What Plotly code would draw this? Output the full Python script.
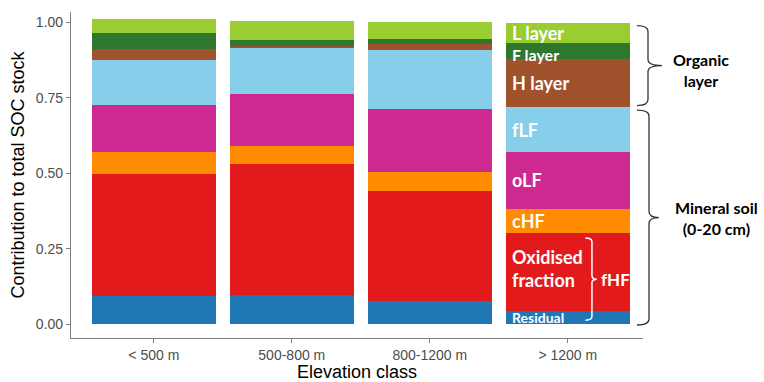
import plotly.graph_objects as go

# Elevation classes on the x axis
elevation_classes = ["< 500 m", "500-800 m", "800-1200 m", "> 1200 m"]

# Fraction names, stacked from bottom to top
fractions = ["Residual", "Oxidised fraction", "cHF", "oLF", "fLF", "H layer", "F layer", "L layer"]

# Contribution of each fraction to total SOC stock, per elevation class
residual = [0.094, 0.097, 0.076, 0.043]
oxidised = [0.402, 0.433, 0.364, 0.260]
chf = [0.073, 0.060, 0.065, 0.080]
olf = [0.157, 0.172, 0.208, 0.186]
flf = [0.149, 0.152, 0.196, 0.151]
h_layer = [0.036, 0.007, 0.019, 0.157]
f_layer = [0.052, 0.020, 0.017, 0.055]
l_layer = [0.047, 0.064, 0.055, 0.065]

series = [residual, oxidised, chf, olf, flf, h_layer, f_layer, l_layer]
colors = ["#1F78B4", "#E31A1C", "#FF8C00", "#CD2990", "#87CEEB", "#A0522D", "#2E772E", "#9ACD32"]

W, H = 764, 382
ML, MR, MT, MB = 71, 121, 12, 44
xpos = list(range(len(elevation_classes)))
bar_w = 0.9

fig = go.Figure()
for name, vals, col in zip(fractions, series, colors):
    fig.add_trace(go.Bar(
        x=xpos, y=vals, name=name, width=bar_w,
        marker=dict(color=col, line=dict(width=0)),
        showlegend=False, hoverinfo="name+y",
    ))

# Cumulative boundaries of the last (highest elevation) bar, used for labels
last = len(elevation_classes) - 1
bounds = [0.0]
for vals in series:
    bounds.append(bounds[-1] + vals[last])
mids = [(bounds[i] + bounds[i + 1]) / 2 for i in range(len(series))]

label_x = last - bar_w / 2 + 0.03
label_font = dict(family="Lato", color="white", weight="bold")
label_specs = [
    # (text, index of segment, font size, y shift in px)
    ("Residual", 0, 14, 0),
    ("Oxidised<br>fraction", 1, 18, 3),
    ("cHF", 2, 18, 0),
    ("oLF", 3, 18, 0),
    ("fLF", 4, 18, 0),
    ("H layer", 5, 18, 0),
    ("F layer", 6, 16, -3),
    ("L layer", 7, 18, 0),
]
annotations = []
for text, idx, size, ys in label_specs:
    annotations.append(dict(
        x=label_x, y=mids[idx], xref="x", yref="y", text=text, showarrow=False,
        xanchor="left", yanchor="middle", align="left", yshift=ys,
        font=dict(size=size, **label_font),
    ))

# White bracket grouping oxidised fraction + residual as fHF
fhf_top = bounds[2] - 0.018
fhf_bot = bounds[0] + 0.013
fhf_mid = (fhf_top + fhf_bot) / 2
bx0, bx1, bx2 = last + 0.127, last + 0.175, last + 0.21
r = 0.012
fhf_path = (
    f"M {bx0},{fhf_top} Q {bx1},{fhf_top} {bx1},{fhf_top - r} "
    f"L {bx1},{fhf_mid + r} Q {bx1},{fhf_mid} {bx2},{fhf_mid} "
    f"Q {bx1},{fhf_mid} {bx1},{fhf_mid - r} "
    f"L {bx1},{fhf_bot + r} Q {bx1},{fhf_bot} {bx0},{fhf_bot}"
)
shapes = [dict(type="path", path=fhf_path, xref="x", yref="y",
               line=dict(color="white", width=1.5))]
annotations.append(dict(
    x=last + 0.225, y=fhf_mid, xref="x", yref="y", text="fHF", showarrow=False,
    xanchor="left", yanchor="middle", font=dict(size=17, **label_font),
))


def brace(ytop, ybot, px0, px1, px2, rr):
    """Right-pointing curly brace in paper x / data y coordinates."""
    x0, x1, x2 = [(p - ML) / (W - ML - MR) for p in (px0, px1, px2)]
    ym = (ytop + ybot) / 2
    return (
        f"M {x0},{ytop} Q {x1},{ytop} {x1},{ytop - rr} "
        f"L {x1},{ym + rr} Q {x1},{ym} {x2},{ym} "
        f"Q {x1},{ym} {x1},{ym - rr} "
        f"L {x1},{ybot + rr} Q {x1},{ybot} {x0},{ybot}"
    ), ym


org_path, org_mid = brace(bounds[-1] - 0.008, bounds[5] + 0.004, 637, 648, 662, 0.02)
min_path, min_mid = brace(bounds[5] - 0.011, bounds[0] - 0.003, 637, 649, 659, 0.02)
for p in (org_path, min_path):
    shapes.append(dict(type="path", path=p, xref="paper", yref="y",
                       line=dict(color="#333333", width=1.3)))

side_font = dict(family="Lato", size=16, color="black", weight="bold")
annotations.append(dict(
    x=(701 - ML) / (W - ML - MR), y=org_mid, xref="paper", yref="y", yshift=-4,
    text="Organic<br>layer", showarrow=False, xanchor="center", yanchor="middle",
    align="center", font=side_font,
))
annotations.append(dict(
    x=(716 - ML) / (W - ML - MR), y=min_mid, xref="paper", yref="y",
    text="Mineral soil<br>(0-20 cm)", showarrow=False, xanchor="center", yanchor="middle",
    align="center", font=side_font,
))

axis_line = "#7F7F7F"
fig.update_layout(
    width=W, height=H,
    margin=dict(l=ML, r=MR, t=MT, b=MB, autoexpand=False),
    barmode="stack", bargap=0,
    plot_bgcolor="white", paper_bgcolor="white",
    font=dict(family="Liberation Sans", color="black"),
    shapes=shapes, annotations=annotations,
    xaxis=dict(
        range=[-0.6, 3.545], tickmode="array", tickvals=xpos, ticktext=elevation_classes,
        showgrid=False, zeroline=False, showline=True, linecolor=axis_line, linewidth=1.2,
        ticks="outside", ticklen=4, tickcolor=axis_line, tickwidth=1.2,
        tickfont=dict(family="Liberation Sans", size=14, color="#4D4D4D"),
        title=dict(text="Elevation class", font=dict(family="Liberation Sans", size=18, color="black"),
                   standoff=1),
    ),
    yaxis=dict(
        range=[-0.046, 1.034], tickmode="array", tickvals=[0, 0.25, 0.5, 0.75, 1.0],
        tickformat=".2f", showgrid=False, zeroline=False, showline=True,
        linecolor=axis_line, linewidth=1.2, ticks="outside", ticklen=4,
        tickcolor=axis_line, tickwidth=1.2,
        tickfont=dict(family="Liberation Sans", size=14, color="#4D4D4D"),
        title=dict(text="Contribution to total SOC stock",
                   font=dict(family="Liberation Sans", size=18, color="black"), standoff=6),
    ),
)

fig.write_html("out.html")
